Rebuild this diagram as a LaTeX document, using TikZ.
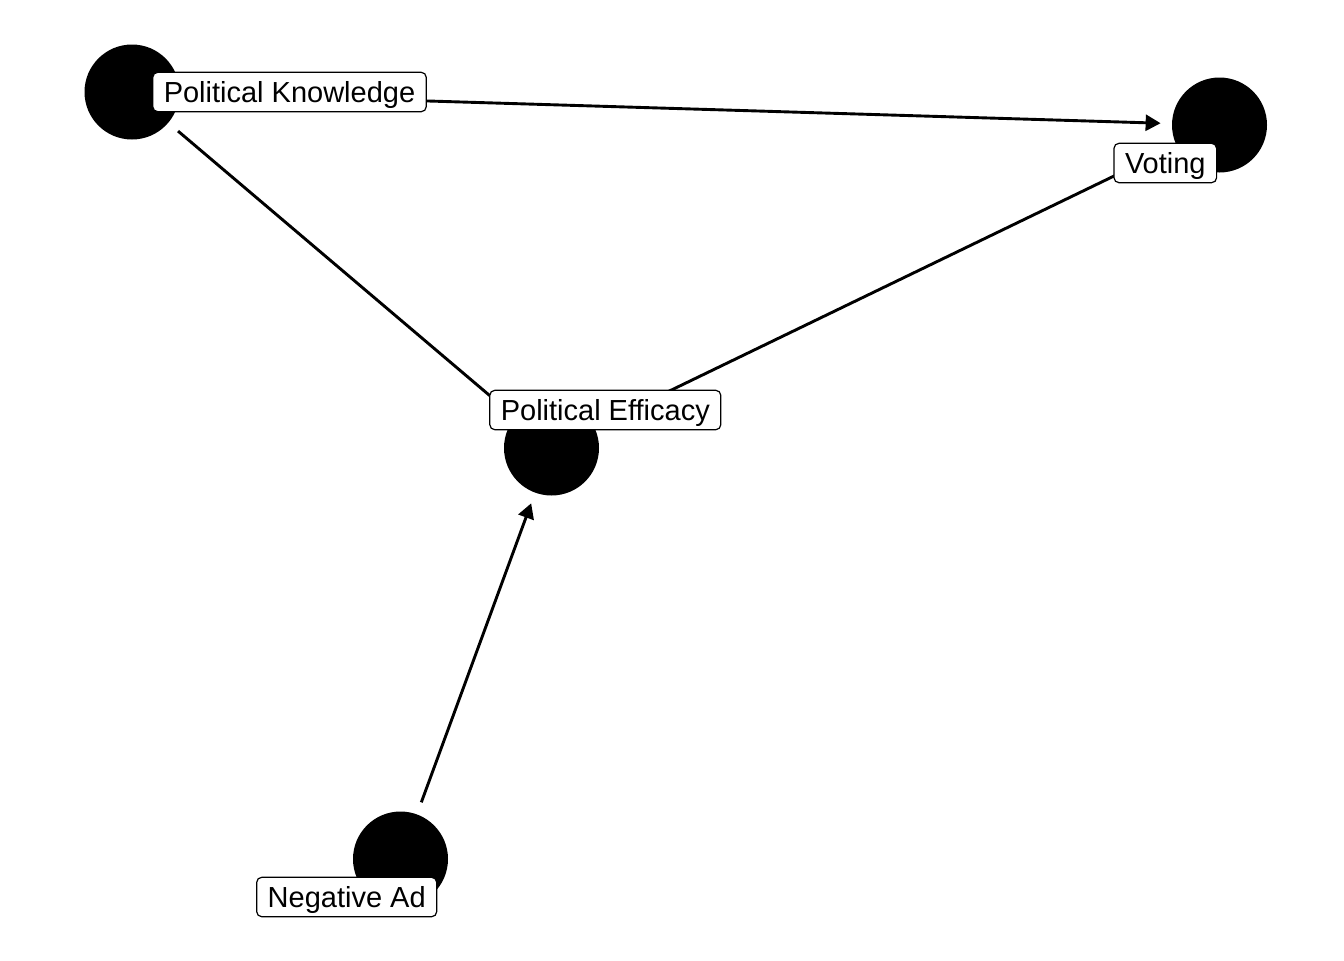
\documentclass[tikz,border=0pt]{standalone}
\usepackage{fontspec}
\setmainfont{Liberation Sans}
\usepackage{tikz}
\usetikzlibrary{arrows.meta, positioning}
\tikzset{
x=0.5pt, y=-0.5pt, % one unit is one pixel of the plot
>={Triangle[length=7.5pt, width=8pt]}, % closed heads on the directed edges
varnode/.style={circle, fill=black, minimum size=47.5pt, inner sep=0pt}, % sets the properties for each variable
varlabel/.style={draw, fill=white, rounded corners=2.5pt, line width=0.6pt, font=\fontsize{14.5}{16}\selectfont, inner xsep=5.5pt, inner ysep=0pt, text height=15pt, text depth=4.7pt}, % the boxed names
path/.style={line width=1.45pt, shorten <=6.25pt, shorten >=5.5pt}, % edges stop short of the circles
}
\begin{document}
\begin{tikzpicture}
                \useasboundingbox (0,0) rectangle (1344,960);
                \node[varnode] (pk) at (132,92) {};
                \node[varnode] (vo) at (1219.5,125) {};
                \node[varnode] (pe) at (551.5,448) {};
                \node[varnode] (na) at (400.5,859) {};
                \draw[path, ->] (pk) -- (vo);
                \draw[path, ->] (pk) -- (pe);
                \draw[path, ->] (pe) -- (vo);
                \draw[path, ->] (na) -- (pe);
                \node[varlabel] (pkl) at (289.5,92) {Political Knowledge};
                \node[varlabel] (vol) at (1165.3,163) {Voting};
                \node[varlabel] (pel) at (605.3,410) {Political Efficacy};
                \node[varlabel] (nal) at (346.7,897) {Negative Ad};
                \end{tikzpicture}
\end{document}
